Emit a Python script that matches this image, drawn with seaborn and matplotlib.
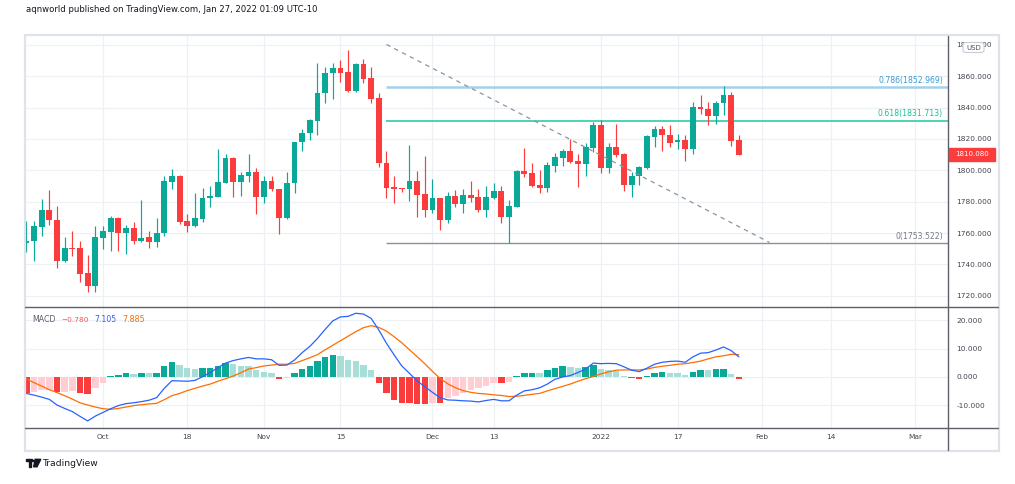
import numpy as np
import pandas as pd
import matplotlib
matplotlib.use("Agg")
import matplotlib.pyplot as plt
import seaborn as sns
from matplotlib.patches import Rectangle, FancyBboxPatch, Polygon, Circle
from matplotlib.lines import Line2D

# ---------------- data (XAUUSD daily) ----------------
opens = [1753.4, 1754.9, 1764.0, 1774.5, 1768.3, 1742.1, 1750.6, 1750.2, 1734.5, 1726.4,
         1757.0, 1760.9, 1769.4, 1759.8, 1763.2, 1755.1, 1757.2, 1754.5, 1759.8, 1792.8,
         1796.4, 1767.7, 1764.7, 1769.1, 1782.1, 1783.2, 1792.1, 1807.9, 1792.8, 1796.6,
         1798.9, 1783.2, 1793.2, 1788.1, 1769.8, 1791.9, 1818.1, 1824.0, 1831.7, 1849.1,
         1861.9, 1865.3, 1862.8, 1850.4, 1867.9, 1858.7, 1846.0, 1804.9, 1789.4, 1788.7,
         1788.3, 1793.2, 1784.9, 1774.7, 1782.3, 1768.3, 1783.6, 1778.5, 1784.2, 1782.8,
         1774.9, 1782.5, 1786.8, 1770.0, 1776.8, 1799.6, 1798.1, 1790.6, 1788.9, 1803.0,
         1808.1, 1812.3, 1805.9, 1804.3, 1814.5, 1828.7, 1801.3, 1814.9, 1810.4, 1790.8,
         1796.4, 1801.7, 1821.5, 1826.4, 1822.6, 1817.9, 1819.6, 1813.6, 1840.4, 1839.4,
         1834.5, 1842.8, 1847.9, 1819.4]
highs = [1767.7, 1767.7, 1781.7, 1787.2, 1777.0, 1757.4, 1761.1, 1754.9, 1746.0, 1764.5,
         1764.5, 1770.9, 1770.0, 1765.1, 1767.0, 1781.1, 1761.1, 1769.4, 1796.4, 1800.6,
         1797.0, 1772.3, 1785.3, 1788.5, 1789.8, 1813.8, 1810.4, 1808.5, 1798.9, 1810.4,
         1801.5, 1796.4, 1796.4, 1788.3, 1798.9, 1818.3, 1826.6, 1833.0, 1868.3, 1866.0,
         1868.6, 1870.4, 1876.8, 1868.3, 1871.1, 1866.0, 1849.4, 1812.3, 1796.4, 1788.9,
         1815.9, 1799.6, 1809.1, 1794.5, 1782.5, 1786.2, 1787.4, 1788.1, 1793.0, 1788.1,
         1790.0, 1791.7, 1790.0, 1781.1, 1800.2, 1814.2, 1804.7, 1800.4, 1805.3, 1811.1,
         1813.6, 1820.0, 1810.4, 1817.2, 1831.1, 1832.1, 1817.2, 1829.8, 1811.1, 1798.9,
         1802.8, 1822.8, 1828.3, 1828.3, 1828.9, 1823.4, 1822.6, 1843.8, 1847.9, 1843.8,
         1844.3, 1853.8, 1850.2, 1822.6]
lows = [1748.1, 1742.3, 1758.3, 1765.1, 1737.9, 1741.3, 1745.5, 1728.9, 1722.3, 1722.6,
        1750.0, 1748.3, 1748.7, 1746.4, 1752.8, 1754.0, 1750.6, 1750.8, 1758.3, 1787.8,
        1765.5, 1760.9, 1764.0, 1767.2, 1776.8, 1783.0, 1792.0, 1783.2, 1783.8, 1792.6,
        1772.1, 1779.4, 1786.8, 1759.4, 1769.0, 1785.3, 1812.6, 1819.4, 1822.8, 1843.2,
        1845.5, 1856.4, 1850.0, 1850.0, 1855.5, 1843.2, 1802.3, 1782.5, 1778.9, 1786.4,
        1780.4, 1770.0, 1770.0, 1772.5, 1761.9, 1766.6, 1776.4, 1772.5, 1779.8, 1773.6,
        1770.4, 1781.7, 1766.6, 1753.5, 1776.4, 1796.0, 1789.6, 1785.3, 1786.2, 1799.1,
        1802.8, 1804.9, 1789.6, 1796.4, 1811.9, 1798.5, 1798.5, 1808.7, 1786.8, 1783.2,
        1790.6, 1800.6, 1815.1, 1812.6, 1814.7, 1813.6, 1806.2, 1810.6, 1836.2, 1828.7,
        1829.4, 1835.3, 1815.5, 1810.0]
closes = [1755.1, 1764.5, 1774.5, 1768.3, 1742.1, 1750.6, 1750.0, 1734.0, 1726.4, 1757.2,
          1761.1, 1769.4, 1759.8, 1763.2, 1754.9, 1757.0, 1754.5, 1760.0, 1793.2, 1796.4,
          1767.2, 1764.7, 1769.6, 1782.3, 1783.6, 1792.6, 1807.9, 1792.8, 1797.0, 1798.9,
          1783.2, 1793.2, 1787.9, 1769.8, 1791.9, 1818.1, 1824.0, 1832.1, 1849.4, 1862.1,
          1865.3, 1862.3, 1850.4, 1867.9, 1858.5, 1845.7, 1804.9, 1788.9, 1788.3, 1788.3,
          1793.2, 1784.5, 1774.7, 1782.3, 1768.3, 1783.6, 1778.5, 1784.2, 1782.5, 1774.9,
          1782.8, 1786.8, 1770.0, 1777.2, 1799.6, 1797.7, 1790.2, 1788.9, 1803.4, 1808.5,
          1812.3, 1805.5, 1804.3, 1814.9, 1828.7, 1801.3, 1814.9, 1809.8, 1790.8, 1796.4,
          1802.1, 1821.9, 1826.4, 1822.3, 1817.7, 1819.6, 1813.6, 1840.4, 1839.4, 1834.5,
          1843.2, 1847.9, 1818.9, 1810.08]

macd_line = [-5.8, -6.4, -7.1, -7.9, -9.9, -11.1, -12.2, -13.9, -15.5, -13.8,
             -12.5, -11.2, -10.1, -9.4, -9.1, -8.7, -8.2, -7.3, -4.0, -1.3,
             -1.4, -1.5, -1.2, 0.1, 1.6, 3.3, 4.9, 5.8, 6.4, 6.9,
             6.4, 6.4, 6.1, 4.1, 4.2, 6.0, 8.6, 10.8, 13.6, 16.8,
             19.8, 21.2, 21.4, 22.5, 22.2, 20.7, 16.6, 11.9, 7.8, 3.9,
             1.3, -1.4, -3.4, -5.4, -7.3, -8.1, -8.2, -8.4, -8.5, -8.8,
             -8.3, -7.9, -8.4, -8.4, -6.4, -4.9, -4.5, -3.8, -2.5, -0.8,
             0.0, 0.5, 1.6, 2.8, 4.9, 4.7, 4.8, 4.7, 3.6, 2.4,
             1.9, 3.1, 4.5, 5.2, 5.5, 5.6, 5.2, 7.1, 8.4, 8.6,
             9.5, 10.6, 9.3, 7.105]
signal_line = [-0.7, -2.0, -3.2, -4.5, -5.5, -6.6, -7.8, -9.1, -9.9, -10.6,
               -11.2, -11.4, -11.1, -10.6, -10.1, -9.8, -9.5, -9.3, -8.0, -6.6,
               -5.8, -4.8, -4.0, -3.2, -2.5, -1.5, -0.6, 0.35, 1.5, 2.8,
               3.3, 3.9, 4.2, 4.5, 4.5, 4.8, 5.8, 6.8, 7.9, 9.6,
               11.2, 12.8, 14.4, 16.0, 17.4, 18.1, 17.5, 16.2, 14.2, 12.1,
               9.6, 7.2, 4.7, 2.0, -0.5, -2.4, -3.8, -4.8, -5.4, -5.8,
               -6.0, -6.3, -6.5, -6.9, -6.8, -6.5, -6.1, -5.8, -4.9, -4.1,
               -3.3, -2.5, -1.5, -0.6, 0.2, 1.1, 1.8, 2.4, 2.5, 2.5,
               2.5, 2.8, 3.4, 3.8, 4.1, 4.5, 4.7, 5.1, 5.6, 6.4,
               7.1, 7.5, 8.0, 7.885]
histogram = [-5.8, -5.4, -4.7, -4.6, -5.4, -5.2, -4.9, -5.6, -5.9, -3.8,
             -2.0, 0.35, 0.7, 1.3, 1.2, 1.5, 1.3, 1.5, 3.9, 5.3,
             4.2, 3.3, 2.7, 3.2, 3.35, 3.8, 5.1, 4.5, 3.9, 3.8,
             2.5, 1.9, 1.3, -0.8, -0.5, 1.5, 2.9, 4.0, 5.8, 7.2,
             7.6, 7.4, 6.1, 5.6, 4.2, 2.4, -2.1, -5.8, -8.1, -9.1,
             -9.2, -9.4, -9.6, -9.1, -9.3, -7.5, -6.7, -5.5, -4.6, -4.0,
             -3.2, -2.0, -2.2, -1.6, 0.35, 1.3, 1.5, 1.45, 2.5, 3.2,
             3.8, 3.5, 3.2, 3.6, 4.2, 2.7, 2.5, 2.2, 0.2, -0.5,
             -0.8, 0.5, 1.5, 1.9, 1.5, 1.3, 0.7, 1.8, 2.4, 2.3,
             2.7, 2.8, 1.1, -0.78]

price_ticks = [1720, 1740, 1760, 1780, 1800, 1820, 1840, 1860, 1880]
macd_ticks = [-10, 0, 10, 20]
tick_dates = ['2021-10-01', '2021-10-18', '2021-11-01', '2021-11-15', '2021-12-01',
              '2021-12-13', '2022-01-03', '2022-01-17', '2022-02-01', '2022-02-14', '2022-03-01']
tick_labels = ['Oct', '18', 'Nov', '15', 'Dec', '13', '2022', '17', 'Feb', '14', 'Mar']

fib_ratios = [0.786, 0.618, 0]
fib_prices = [1852.969, 1831.713, 1753.522]
fib_start_date = '2021-11-23'
trend_dates = ['2021-11-23', '2022-02-02']
trend_prices = [1880.3, 1754.0]

header = "aqnworld published on TradingView.com, Jan 27, 2022 01:09 UTC-10"

# ---------------- styles ----------------
sns.set_theme(style="white")
plt.rcParams['font.family'] = ['DejaVu Sans', 'Noto Sans']

UP, DOWN = '#0aa896', '#fb3c3c'
H_UP, H_UP_L, H_DN, H_DN_L = '#0aa896', '#a7ded7', '#fb3c3c', '#ffcdd2'
GRID = '#edf1f6'
TXT = '#434651'
W, H = 1015, 484

calendar = pd.bdate_range('2021-09-17', '2022-03-04').drop(pd.Timestamp('2021-12-24'))
def pos(d):
    return calendar.get_loc(pd.Timestamp(d))

n = len(closes)
x = np.arange(n)
o, h, l, c = map(np.asarray, (opens, highs, lows, closes))
cols = np.where(c >= o, UP, DOWN)

fig = plt.figure(figsize=(W / 100, H / 100), dpi=100)
fig.patch.set_facecolor('white')
def fx(px): return px / W
def fy(py): return 1 - py / H
renderer = fig.canvas.get_renderer()

def fit(t, width_px):
    w = t.get_window_extent(renderer).width
    t.set_fontsize(t.get_fontsize() * width_px / w)
    return t

def size_for(s, width_px):
    t = fig.text(0, 0, s, fontsize=10)
    fit(t, width_px)
    fs = t.get_fontsize()
    t.remove()
    return fs

AX_FS = size_for('1860.000', 35)

ax = fig.add_axes([fx(25), fy(307), fx(948) - fx(25), fy(36) - fy(307)])
axm = fig.add_axes([fx(25), fy(428), fx(948) - fx(25), fy(307) - fy(428)], sharex=ax)

xt = [pos(d) for d in tick_dates]
for a in (ax, axm):
    a.set_facecolor('white')
    for s in a.spines.values():
        s.set_visible(False)
    a.set_xticks(xt)
    a.grid(True, color=GRID, lw=0.9)
    a.set_axisbelow(True)
    a.yaxis.tick_right()
    a.tick_params(axis='both', length=0, labelsize=AX_FS, colors=TXT)
    a.tick_params(axis='y', pad=6)

ax.set_xlim(-0.18, 120.3)
ax.set_ylim(1712.8, 1885.7)
ax.set_yticks(price_ticks)
ax.set_yticklabels([f'{v:.3f}' for v in price_ticks])
ax.tick_params(axis='x', labelbottom=False)

# candles
body = np.maximum(np.abs(c - o), 0.55)
ax.vlines(x, l, h, colors=cols, lw=0.85, zorder=3)
ax.bar(x, body, bottom=np.minimum(o, c), width=0.76, color=cols, lw=0, zorder=4)

# fib levels
fib_cols = ['#a5d0ea', '#1cc89e', '#8d8f96']
fib_txt = ['#3a9ad8', '#13c495', '#787b86']
fib_lw = [1.8, 1.1, 1.0]
x0 = pos(fib_start_date)
for r, p, lc, tc, lw in zip(fib_ratios, fib_prices, fib_cols, fib_txt, fib_lw):
    ax.plot([x0, 200], [p, p], color=lc, lw=lw, zorder=2, solid_capstyle='butt')
    lab = f'{r}({p:.3f})'
    t = ax.annotate(lab, xy=(0.9946, p), xycoords=('axes fraction', 'data'),
                    xytext=(0, 1.6), textcoords='offset points', ha='right', va='bottom',
                    color=tc, fontsize=AX_FS * 1.05, zorder=6)

# dashed trend line
ax.plot([pos(d) for d in trend_dates], trend_prices, color='#8f929b', lw=0.9,
        ls=(0, (3.5, 3.5)), zorder=5)

# MACD pane
axm.set_ylim(-18.0, 24.7)
axm.set_yticks(macd_ticks)
axm.set_yticklabels([f'{v:.3f}' for v in macd_ticks])
hist = np.asarray(histogram)
prev = np.concatenate([[np.inf], hist[:-1]])
hcols = np.where(hist >= 0, np.where(hist >= prev, H_UP, H_UP_L),
                 np.where(hist < prev, H_DN, H_DN_L))
axm.bar(x, hist, width=0.84, color=hcols, lw=0, zorder=2)
sns.lineplot(x=x, y=macd_line, ax=axm, color='#2962ff', lw=0.9, zorder=4)
sns.lineplot(x=x, y=signal_line, ax=axm, color='#ff6d00', lw=0.9, zorder=3)
axm.set_xticklabels(tick_labels)
axm.tick_params(axis='x', pad=4.2)
axm.set_xlabel('')
axm.set_ylabel('')
ax.set_ylabel('')

# MACD legend
legend_items = [('MACD', '#5d606b', 32, 23.5), (f'{histogram[-1]:.3f}'.replace('-', '\u2212'), '#ff5252', 61, 27.5),
                (f'{macd_line[-1]:.3f}', '#2962ff', 94.5, 22.5), (f'{signal_line[-1]:.3f}', '#ff6d00', 122.5, 23)]
for s, colr, px, wpx in legend_items:
    t = fig.text(fx(px), fy(319.5), s, color=colr, ha='left', va='center', fontsize=AX_FS)
    fit(t, wpx)

# frame & separators (figure coords)
fig.add_artist(Rectangle((fx(24.5), fy(450.5)), fx(999) - fx(24.5), fy(35) - fy(450.5),
                         fill=False, ec='#dfe2e8', lw=1.6, transform=fig.transFigure))
for y in (307, 428):
    fig.add_artist(Line2D([fx(25), fx(998)], [fy(y), fy(y)], color='#5d606b', lw=1.0))
fig.add_artist(Line2D([fx(948), fx(948)], [fy(36), fy(450)], color='#5d606b', lw=1.0))

# last price label
fig.add_artist(Rectangle((fx(949), fy(160.5)), fx(995) - fx(949), fy(148) - fy(160.5),
                         color='#fb3c3c', transform=fig.transFigure, zorder=10))
t = fig.text(fx(972), fy(154.5), f'{closes[-1]:.3f}', color='white', ha='center', va='center',
             zorder=11, fontsize=AX_FS)
fit(t, 34)

# USD badge
fig.add_artist(FancyBboxPatch((fx(963), fy(52.5)), fx(984) - fx(963), fy(42.5) - fy(52.5),
                              boxstyle='round,pad=0,rounding_size=0.004', fc='white',
                              ec='#c9ccd4', lw=0.8, transform=fig.transFigure, zorder=10))
t = fig.text(fx(973.5), fy(47.5), 'USD', color='#50535e', ha='center', va='center',
             zorder=11, fontsize=AX_FS)
fit(t, 15)

# header
t = fig.text(fx(25.5), fy(9), header, color='#131722', ha='left', va='center', fontsize=6)
fit(t, 292)

# TradingView logo + text
def P(px, py): return (fx(px), fy(py))
logo = '#131722'
fig.add_artist(Polygon([P(26, 459.3), P(32.3, 459.3), P(32.3, 461.4), P(31.3, 461.4),
                        P(31.3, 466.8), P(28.5, 466.8), P(28.5, 461.4), P(26, 461.4)],
                       closed=True, color=logo, transform=fig.transFigure))
fig.add_artist(Circle(P(33.6, 461.0), 1.1 / W, color=logo, transform=fig.transFigure))
fig.add_artist(Polygon([P(35.2, 459.3), P(40.8, 459.3), P(37.0, 466.8), P(33.6, 466.8)],
                       closed=True, color=logo, transform=fig.transFigure))
t = fig.text(fx(43), fy(463.5), 'TradingView', color='#131722', ha='left', va='center', fontsize=7)
fit(t, 55)

fig.savefig('out.png', dpi=100, facecolor='white')
